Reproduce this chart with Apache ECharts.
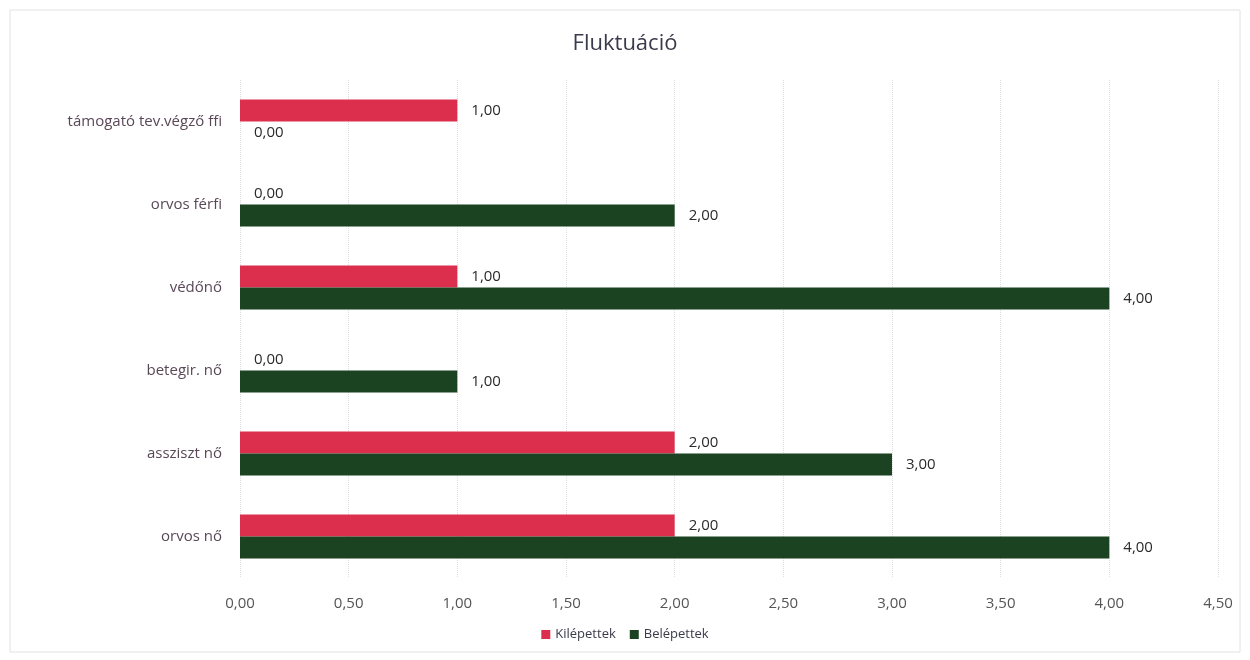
<!DOCTYPE html>
<html><head><meta charset="utf-8">
<script src="https://cdn.jsdelivr.net/npm/echarts@6/dist/echarts.min.js"></script>
<style>html,body{margin:0;padding:0;background:#fff}#c{width:1250px;height:660px}</style>
</head><body><div id="c"></div>
<script>
const categories = ['orvos nő', 'assziszt nő', 'betegir. nő', 'védőnő', 'orvos férfi', 'támogató tev.végző ffi'];
const kilepettek = [2, 2, 0, 1, 0, 1];
const belepettek = [4, 3, 1, 4, 2, 0];
const seriesNames = ['Kilépettek', 'Belépettek'];

const fmt = v => Number(v).toFixed(2).replace('.', ',');
const chart = echarts.init(document.getElementById('c'));
const lbl = {show: true, position: 'right', distance: 14, formatter: p => fmt(p.value), color: '#2a2a2a', fontSize: 15, fontFamily: 'Open Sans'};
chart.setOption({
  backgroundColor: '#fff',
  title: {text: 'Fluktuáció', left: 'center', top: 28, textStyle: {fontFamily: 'Open Sans', fontSize: 22, fontWeight: 'normal', color: '#3a3a4a'}},
  legend: {bottom: 14, left: 'center', itemWidth: 9, itemHeight: 9, itemGap: 14, icon: 'rect', textStyle: {fontFamily: 'Open Sans', fontSize: 13, color: '#3a3a4a'}, data: seriesNames},
  grid: {left: 240, right: 32, top: 80, bottom: 82},
  xAxis: {type: 'value', min: 0, max: 4.5, interval: 0.5,
    axisLine: {show: false}, axisTick: {show: false},
    axisLabel: {formatter: fmt, color: '#555', fontFamily: 'Open Sans', fontSize: 15, margin: 18},
    splitLine: {lineStyle: {color: '#ddd', type: 'dotted'}}},
  yAxis: {type: 'category', data: categories,
    axisLine: {show: false}, axisTick: {show: false},
    axisLabel: {color: '#5a4858', fontFamily: 'Open Sans', fontSize: 15, margin: 18}},
  series: [
    {name: seriesNames[0], type: 'bar', data: kilepettek, itemStyle: {color: '#dc2f4e'}, barGap: '0%', barCategoryGap: '47%', label: lbl},
    {name: seriesNames[1], type: 'bar', data: belepettek, itemStyle: {color: '#1b4322'}, barGap: '0%', barCategoryGap: '47%', label: lbl}
  ],
  graphic: [{type: 'rect', shape: {x: 10, y: 10, width: 1230, height: 642}, style: {fill: 'none', stroke: '#e2e2e2', lineWidth: 1}, silent: true}]
});
</script></body></html>
